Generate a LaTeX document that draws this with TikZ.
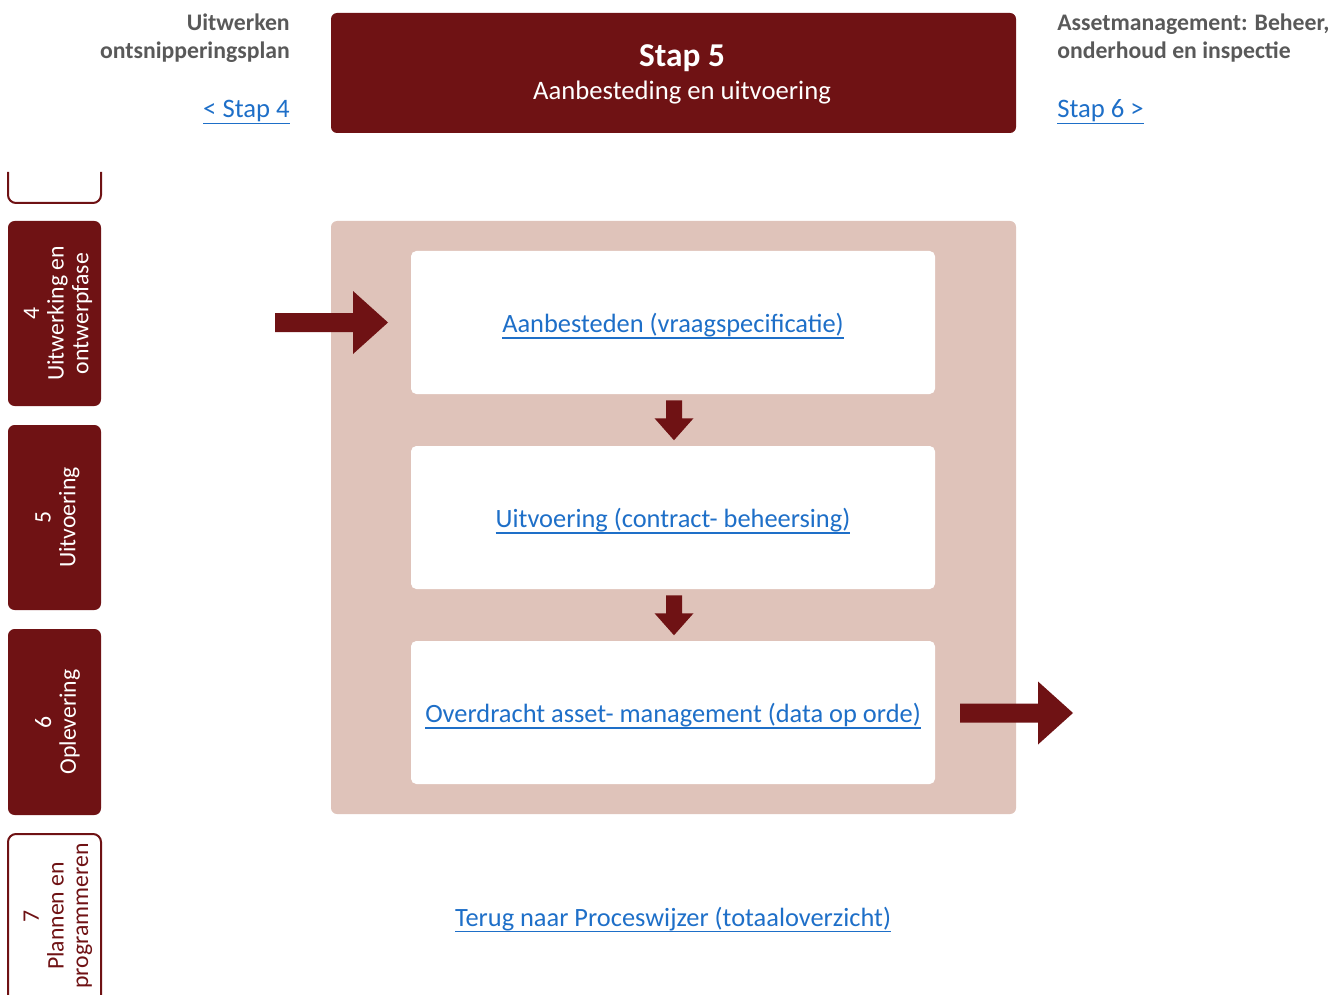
\documentclass[tikz,border=0pt]{standalone}
\usepackage{fontspec}
\setmainfont{Carlito}
\usetikzlibrary{calc}
\definecolor{stepred}{HTML}{6F1214}
\definecolor{panelpink}{HTML}{DFC3BA}
\definecolor{greytext}{HTML}{595959}
\definecolor{linkblue}{HTML}{1E6FC8}
% hyperlink style: text with a rule just under the descenders
\newcommand{\lnk}[1]{\setbox0\hbox{#1}\rlap{\rule[-4.6pt]{\wd0}{1.1pt}}\box0}
\tikzset{
  px/.style={x=0.75pt,y=-0.75pt},
  header/.style={fill=stepred,rounded corners=4.5pt,draw=none},
  panel/.style={fill=panelpink,rounded corners=4.5pt,draw=none},
  actbox/.style={fill=white,rounded corners=4pt,draw=none},
  tabfull/.style={fill=stepred,rounded corners=5pt,draw=none},
  tabline/.style={draw=stepred,line width=1.5pt,rounded corners=6pt},
  tabtext/.style={rotate=90,align=center,font=\fontsize{17.8}{18.5}\selectfont},
  linktext/.style={text=linkblue,font=\fontsize{19.8}{23}\selectfont,inner sep=0pt},
  greyhead/.style={text=greytext,font=\bfseries\fontsize{17.8}{21}\selectfont,inner sep=0pt},
  bigarrow/.style={fill=stepred,draw=none},
}
\begin{document}
\begin{tikzpicture}[px]
\useasboundingbox (0,0) rectangle (1332,995);

% header bar of this step
\path[header] (331,13) rectangle (1016,133);
\node[anchor=base,text=white,font=\bfseries\fontsize{25}{29}\selectfont,inner sep=0pt] (title) at (682,67) {Stap 5};
\node[anchor=base,text=white,font=\fontsize{20}{23}\selectfont,inner sep=0pt] (subtitle) at (682,100) {Aanbesteding en uitvoering};

% previous step
\node[greyhead,anchor=base east] (prevA) at (290,31) {Uitwerken};
\node[greyhead,anchor=base east] (prevB) at (290,59) {ontsnipperingsplan};
\node[linktext,anchor=base east,font=\fontsize{20}{23}\selectfont] (prev) at (290,118) {\lnk{< Stap 4}};

% next step
\node[greyhead,anchor=base west] (nextA) at (1057,31) {Assetmanagement: Beheer,};
\node[greyhead,anchor=base west] (nextB) at (1057,59) {onderhoud en inspectie};
\node[linktext,anchor=base west,font=\fontsize{20}{23}\selectfont] (next) at (1057,118) {\lnk{Stap 6 >}};

% side tabs with the phases
\draw[tabline] (8,172) -- (8,203) -- (101,203) -- (101,172);
\path[tabfull] (8,221) rectangle (101,406);
\node[tabtext,text=white] (t4) at (58,313.5) {4\\Uitwerking en\\ontwerpfase};
\path[tabfull] (8,425) rectangle (101,610);
\node[tabtext,text=white] (t5) at (57.5,517.5) {5\\Uitvoering};
\path[tabfull] (8,629) rectangle (101,815);
\node[tabtext,text=white] (t6) at (57.5,722) {6\\Oplevering};
\draw[tabline] (8,996) -- (8,834) -- (101,834) -- (101,996);
\node[tabtext,text=stepred] (t7) at (58,916) {7\\Plannen en\\programmeren};

% panel with the activities
\path[panel] (331,221) rectangle (1016,814);
\node[actbox,minimum width=393pt,minimum height=107.25pt] (b1) at (673,322.5) {};
\node[actbox,minimum width=393pt,minimum height=107.25pt] (b2) at (673,517.5) {};
\node[actbox,minimum width=393pt,minimum height=107.25pt] (b3) at (673,712.5) {};
\node[linktext,anchor=base] (l1) at ($(b1.center)+(0,10)$) {\lnk{Aanbesteden (vraagspecificatie)}};
\node[linktext,anchor=base] (l2) at ($(b2.center)+(0,10)$) {\lnk{Uitvoering (contract- beheersing)}};
\node[linktext,anchor=base] (l3) at ($(b3.center)+(0,10)$) {\lnk{Overdracht asset- management (data op orde)}};

% block arrows
\coordinate (inA) at (275,322.5);
\fill[bigarrow] (inA) -- ++(0,-9.5) -- ++(78,0) -- ++(0,-22) -- ++(35,31.5) -- ++(-35,31.5) -- ++(0,-22) -- ++(-78,0) -- cycle;
\coordinate (outA) at (960,713);
\fill[bigarrow] (outA) -- ++(0,-9.5) -- ++(78,0) -- ++(0,-22) -- ++(35,31.5) -- ++(-35,31.5) -- ++(0,-22) -- ++(-78,0) -- cycle;
\coordinate (d1) at ($(b1.south)+(1,6)$);
\fill[bigarrow] (d1) -- ++(-8,0) -- ++(0,18) -- ++(-11.5,0) -- ++(19.5,22) -- ++(19.5,-22) -- ++(-11.5,0) -- ++(0,-18) -- cycle;
\coordinate (d2) at ($(b2.south)+(1,6)$);
\fill[bigarrow] (d2) -- ++(-8,0) -- ++(0,18) -- ++(-11.5,0) -- ++(19.5,22) -- ++(19.5,-22) -- ++(-11.5,0) -- ++(0,-18) -- cycle;

% back to the overview
\node[linktext,anchor=base] (back) at (673,926) {\lnk{Terug naar Proceswijzer (totaaloverzicht)}};
\end{tikzpicture}
\end{document}
